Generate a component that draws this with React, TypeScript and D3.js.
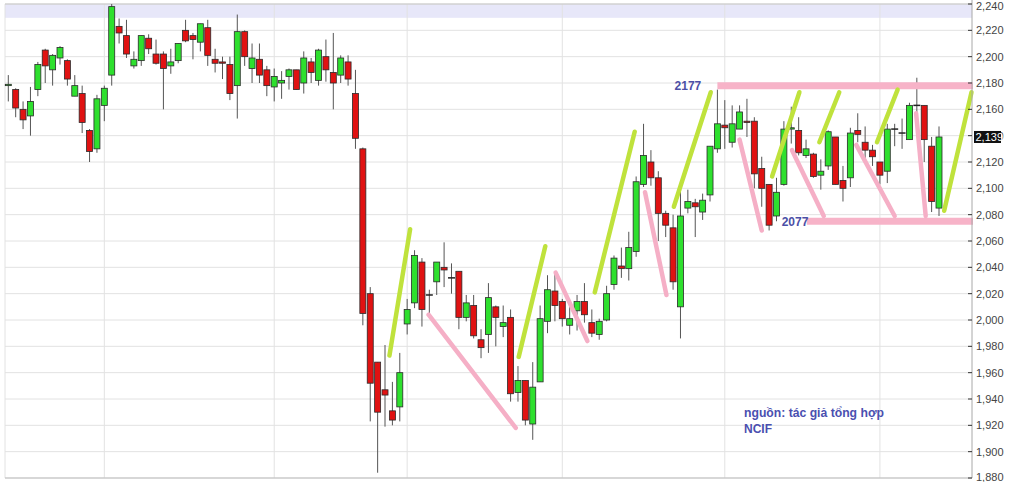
import * as d3 from 'd3'

// daily candles (index 0 = leftmost)
const open = [
  2178, 2175, 2160, 2155, 2175, 2205, 2190, 2199, 2197, 2170, 2172, 2144, 2130, 2163, 2186, 2223,
  2216, 2193, 2197, 2214, 2202, 2202, 2193, 2197, 2220, 2216, 2211, 2222, 2198, 2196, 2194, 2178,
  2219, 2191, 2198, 2190, 2177, 2180, 2185, 2190, 2180, 2196, 2182, 2200, 2188, 2186, 2196, 2172,
  2130, 2020, 1968, 1947, 1931, 1934, 1997, 2013, 2044, 2019, 2029, 2040, 2032, 2037, 2002, 2011,
  1985, 1989, 2010, 1995, 2002, 1945, 1954, 1921, 1953, 1999, 2022, 2014, 1996, 2007, 2014, 1998,
  1989, 2000, 2027, 2041, 2039, 2052, 2103, 2120, 2108, 2081, 2070, 2010, 2085, 2089, 2082, 2095,
  2130, 2148, 2135, 2145, 2151, 2151, 2115, 2103, 2079, 2103, 2145, 2144, 2125, 2126, 2110, 2117,
  2139, 2106, 2108, 2144, 2135, 2129, 2120, 2113, 2145, 2142, 2137, 2163, 2163, 2132, 2085,
]
const high = [
  2186, 2176, 2166, 2177, 2196, 2206, 2202, 2208, 2198, 2186, 2178, 2145, 2171, 2178, 2240, 2229,
  2228, 2204, 2216, 2217, 2213, 2204, 2206, 2210, 2228, 2218, 2225, 2228, 2206, 2200, 2200, 2232,
  2220, 2210, 2210, 2193, 2191, 2189, 2191, 2190, 2204, 2199, 2206, 2213, 2218, 2201, 2201, 2190,
  2131, 2025, 1968, 1981, 1953, 1975, 2016, 2053, 2047, 2023, 2044, 2059, 2043, 2037, 2019, 2019,
  1993, 2028, 2011, 2011, 2008, 1965, 1954, 1968, 2011, 2034, 2037, 2016, 2014, 2019, 2028, 2008,
  2001, 2026, 2049, 2055, 2067, 2109, 2149, 2129, 2113, 2083, 2080, 2105, 2099, 2092, 2096, 2132,
  2175, 2167, 2163, 2163, 2168, 2154, 2124, 2103, 2108, 2151, 2162, 2154, 2137, 2127, 2122, 2144,
  2139, 2117, 2146, 2157, 2147, 2133, 2120, 2149, 2149, 2153, 2165, 2184, 2163, 2139, 2147,
]
const low = [
  2166, 2154, 2145, 2140, 2170, 2180, 2178, 2194, 2178, 2170, 2142, 2120, 2127, 2151, 2178, 2210,
  2199, 2191, 2193, 2202, 2194, 2160, 2187, 2195, 2211, 2198, 2204, 2193, 2188, 2183, 2167, 2153,
  2193, 2180, 2180, 2170, 2166, 2168, 2175, 2175, 2172, 2180, 2178, 2181, 2160, 2180, 2178, 2130,
  1996, 1923, 1884, 1919, 1920, 1923, 1989, 2009, 1995, 2005, 2019, 2025, 2020, 1993, 1999, 1986,
  1971, 1975, 1980, 1987, 1938, 1938, 1920, 1909, 1953, 1990, 1999, 1995, 1989, 1992, 1998, 1987,
  1985, 1999, 2023, 2032, 2030, 2048, 2101, 2102, 2060, 2063, 2023, 1986, 2081, 2063, 2076, 2090,
  2127, 2130, 2131, 2145, 2139, 2100, 2086, 2068, 2075, 2102, 2134, 2125, 2123, 2108, 2099, 2114,
  2103, 2090, 2101, 2135, 2123, 2117, 2103, 2104, 2132, 2130, 2137, 2156, 2120, 2082, 2079,
]
const close = [
  2179, 2161, 2152, 2166, 2194, 2193, 2201, 2207, 2183, 2178, 2150, 2128, 2168, 2176, 2238, 2218,
  2202, 2198, 2216, 2206, 2195, 2191, 2196, 2210, 2212, 2213, 2225, 2201, 2195, 2195, 2172, 2219,
  2200, 2199, 2186, 2178, 2185, 2182, 2190, 2175, 2199, 2188, 2205, 2190, 2180, 2199, 2183, 2138,
  2005, 1952, 1930, 1943, 1924, 1960, 2008, 2049, 2008, 2019, 2044, 2038, 2032, 2002, 2013, 1988,
  1979, 2017, 2002, 1998, 1944, 1954, 1924, 1949, 2001, 2023, 2011, 2001, 2001, 2014, 2004, 1990,
  1999, 2020, 2047, 2039, 2055, 2105, 2125, 2108, 2081, 2072, 2029, 2079, 2090, 2086, 2091, 2132,
  2149, 2146, 2149, 2158, 2150, 2111, 2100, 2072, 2097, 2145, 2146, 2127, 2130, 2109, 2113, 2143,
  2103, 2100, 2142, 2141, 2129, 2124, 2110, 2145, 2145, 2142, 2163, 2163, 2137, 2090, 2139,
]

// candle indices where a vertical grid line is drawn
const monthStarts = [13, 36, 54, 75, 97, 118]

// hand-drawn trend strokes: [fromIndex, fromPrice, toIndex, toPrice]
const upStrokes = [
  [51.6, 1973, 54.4, 2069],
  [69.1, 1972, 72.7, 2056],
  [79.4, 2021, 84.8, 2143],
  [90.1, 2086, 95.1, 2173],
  [103.4, 2109, 107.1, 2173],
  [109.8, 2135, 112.5, 2173],
  [117.6, 2135, 120.4, 2175],
  [126.7, 2083, 130.4, 2173],
]
const downStrokes = [
  [56.9, 2004, 68.7, 1918],
  [74.1, 2036, 78.4, 1984],
  [86.2, 2097, 89.1, 2019],
  [99.0, 2137, 102.0, 2068],
  [106.1, 2129, 110.4, 2079],
  [114.8, 2133, 120.0, 2079],
  [122.9, 2157, 124.2, 2079],
]
// channel edges: [fromIndex, toIndex, level, label]
const channel = [
  [96, 130.6, 2178, '2177'],
  [108.1, 130.6, 2075, '2077'],
] as const

const sourceLines = ['nguồn: tác giả tổng hợp', 'NCIF']

export default function App() {
  const width = 1024
  const height = 482
  const plot = { left: 5, right: 972, top: 4, bottom: 478 }

  const x = d3.scaleLinear().domain([0, open.length - 1]).range([8.3, 939])
  const y = d3.scaleLinear().domain([1880, 2240]).range([plot.bottom, plot.top])
  const fmt = d3.format(',')
  const last = close[close.length - 1]

  return (
    <svg width={width} height={height}
      style={{ position: 'absolute', left: 0, top: 0, background: '#fff' }}
      fontFamily="'Liberation Sans', Arial, sans-serif">
      {/* shaded strip at the top */}
      <rect x={plot.left} y={y(2240)} width={plot.right - plot.left} height={y(2229.5) - y(2240)} fill="#e7e7f9" />

      {y.ticks(18).map(t => (
        <line key={t} x1={plot.left} x2={plot.right} y1={y(t)} y2={y(t)} stroke="#e2e2e2" />
      ))}
      <line x1={plot.left} x2={plot.left} y1={plot.top} y2={plot.bottom} stroke="#e2e2e2" />
      {monthStarts.map(i => (
        <line key={i} x1={x(i)} x2={x(i)} y1={plot.top} y2={plot.bottom} stroke="#e2e2e2" />
      ))}
      <line x1={plot.left} x2={plot.right} y1={plot.top} y2={plot.top} stroke="#c8c8c8" />
      <line x1={plot.left} x2={plot.right} y1={plot.bottom} y2={plot.bottom} stroke="#bdbdbd" />

      {open.map((o, i) => {
        const c = close[i]
        const cx = x(i)
        const top = y(Math.max(o, c))
        const bot = y(Math.min(o, c))
        const doji = Math.abs(c - o) < 1
        return (
          <g key={i}>
            <line x1={cx} x2={cx} y1={y(high[i])} y2={y(low[i])} stroke="#555" />
            {doji
              ? <line x1={cx - 3.5} x2={cx + 3.5} y1={top} y2={top} stroke="#222" strokeWidth={1.5} />
              : <rect x={cx - 3} y={top} width={6} height={Math.max(1, bot - top)}
                  fill={c > o ? '#2ee02e' : '#e01212'} stroke="#2a2a2a" strokeWidth={0.8} />}
          </g>
        )
      })}

      {channel.map(([a, b, v]) => (
        <line key={v} x1={x(a)} x2={x(b)} y1={y(v)} y2={y(v)} stroke="#f7b3c8" strokeWidth={7} />
      ))}
      {downStrokes.map((s, k) => (
        <line key={k} x1={x(s[0])} y1={y(s[1])} x2={x(s[2])} y2={y(s[3])}
          stroke="#f5afc6" strokeWidth={4.5} strokeLinecap="round" />
      ))}
      {upStrokes.map((s, k) => (
        <line key={k} x1={x(s[0])} y1={y(s[1])} x2={x(s[2])} y2={y(s[3])}
          stroke="#bfe23c" strokeWidth={4.5} strokeLinecap="round" />
      ))}

      <text x={x(90.2)} y={y(2178) + 4.5} fontSize={12} fontWeight="bold" fill="#4b4fa6">{channel[0][3]}</text>
      <text x={x(104.7)} y={y(2075) + 5} fontSize={12} fontWeight="bold" fill="#4b4fa6">{channel[1][3]}</text>

      {/* right axis */}
      <line x1={plot.right} x2={plot.right} y1={0} y2={plot.bottom} stroke="#a8a8a8" />
      {y.ticks(18).map(t => (
        <g key={t}>
          <line x1={plot.right - 4} x2={plot.right} y1={y(t)} y2={y(t)} stroke="#333" />
          <text x={plot.right + 4} y={Math.min(height - 5, Math.max(6, y(t)))} dy="0.35em"
            fontSize={11} fill="#444">{fmt(t)}</text>
        </g>
      ))}
      <rect x={plot.right + 2} y={y(last) - 6} width={27} height={12} fill="#111" />
      <text x={plot.right + 3.5} y={y(last)} dy="0.35em" fontSize={11} fill="#fff">{fmt(last)}</text>

      {sourceLines.map((s, k) => (
        <text key={k} x={744} y={417 + k * 16} fontSize={12} fontWeight="bold" fill="#4a4fb0"
          fontFamily="'Liberation Sans Narrow', 'Liberation Sans', sans-serif"
          textLength={k === 0 ? 140 : 28} lengthAdjust="spacingAndGlyphs">{s}</text>
      ))}
    </svg>
  )
}
